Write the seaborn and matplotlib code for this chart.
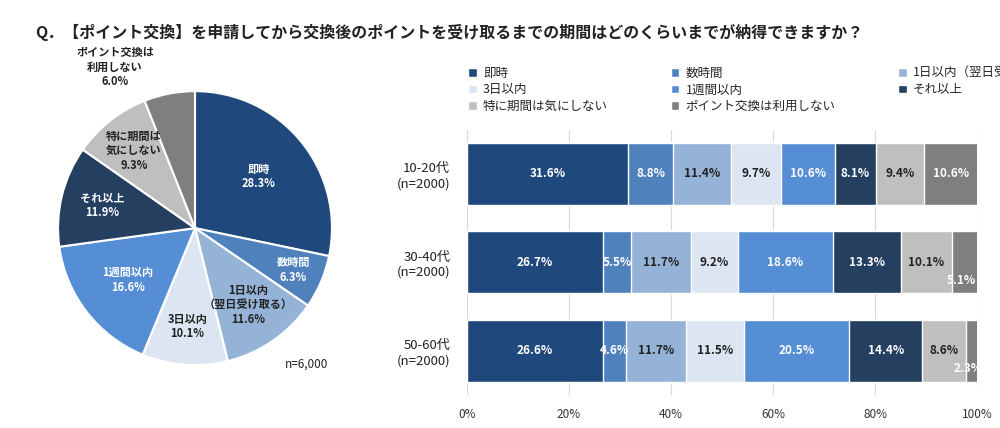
import numpy as np
import pandas as pd
import matplotlib.pyplot as plt
import seaborn as sns

categories = ["即時", "数時間", "1日以内（翌日受け取る）", "3日以内", "1週間以内", "それ以上",
              "特に期間は気にしない", "ポイント交換は利用しない"]
pie_labels = ["即時", "数時間", "1日以内\n（翌日受け取る）", "3日以内", "1週間以内", "それ以上",
              "特に期間は\n気にしない", "ポイント交換は\n利用しない"]
pie_values = [28.3, 6.3, 11.6, 10.1, 16.6, 11.9, 9.3, 6.0]
groups = ["10-20代\n(n=2000)", "30-40代\n(n=2000)", "50-60代\n(n=2000)"]
bar_values = [
    [31.6, 8.8, 11.4, 9.7, 10.6, 8.1, 9.4, 10.6],
    [26.7, 5.5, 11.7, 9.2, 18.6, 13.3, 10.1, 5.1],
    [26.6, 4.6, 11.7, 11.5, 20.5, 14.4, 8.6, 2.3],
]
colors = ["#1F497D", "#4F81BD", "#95B3D7", "#DCE6F2", "#558ED5", "#243F60", "#BFBFBF", "#7F7F7F"]
text_colors = ["white", "white", "#222222", "#222222", "white", "white", "#222222", "white"]

sns.set_theme(style="white")
plt.rcParams['font.family'] = ['Noto Sans CJK JP', 'DejaVu Sans']

fig = plt.figure(figsize=(10, 4.28), dpi=100)
fig.text(0.035, 0.925, "Q．【ポイント交換】を申請してから交換後のポイントを受け取るまでの期間はどのくらいまでが納得できますか？",
         fontsize=11.5, fontweight="bold", color="#222222", va="center")

# --- pie ---
ax_p = fig.add_axes([0.058, 0.147, 0.274, 0.64])
wedges, _ = ax_p.pie(pie_values, colors=colors, startangle=90, counterclock=False,
                     wedgeprops=dict(edgecolor="white", linewidth=1.5))
ax_p.set_xlim(-1.0, 1.0)
ax_p.set_ylim(-1.0, 1.0)
ax_p.set_aspect("equal")
radii = [0.6, 0.78, 0.68, 0.72, 0.62, 0.7, 0.72, 1.25]
for i, w in enumerate(wedges):
    ang = np.deg2rad((w.theta1 + w.theta2) / 2)
    r = radii[i]
    tc = "#222222" if i == 7 else text_colors[i]
    x, y = r * np.cos(ang), r * np.sin(ang)
    if i == 7:
        x -= 0.35
        y -= 0.05
    ax_p.text(x, y, f"{pie_labels[i]}\n{pie_values[i]:.1f}%", ha="center", va="center",
              fontsize=8, fontweight="bold", color=tc, linespacing=1.15)
fig.text(0.285, 0.14, "n=6,000", fontsize=8.5, color="#222222")

# --- stacked bars ---
ax_b = fig.add_axes([0.467, 0.077, 0.51, 0.62])
rows = []
for g, vals in zip(groups, bar_values):
    cum = np.cumsum(vals)
    for c, v, cv in zip(categories, vals, cum):
        rows.append(dict(group=g, cat=c, value=v, cum=cv))
df = pd.DataFrame(rows)
for i in reversed(range(len(categories))):
    d = df[df["cat"] == categories[i]]
    sns.barplot(data=d, x="cum", y="group", color=colors[i], width=0.7, ax=ax_b,
                edgecolor="white", linewidth=1, saturation=1, label=categories[i])
for gi, vals in enumerate(bar_values):
    left = 0
    for i, v in enumerate(vals):
        x, y = left + v / 2, gi
        tc = text_colors[i]
        if v < 6 and i == 7:
            x, y, tc = left + v / 2 - 0.8, gi + 0.2, "white"
        ax_b.text(x, y, f"{v:.1f}%", ha="center", va="center", fontsize=8.5,
                  fontweight="bold", color=tc)
        left += v
ax_b.set_xlim(0, 100)
ax_b.set_xticks(range(0, 101, 20))
ax_b.set_xticklabels([f"{t}%" for t in range(0, 101, 20)], fontsize=8.5, color="#333333")
ax_b.set_yticks(range(3))
ax_b.set_yticklabels(groups, fontsize=9.5, color="#222222")
ax_b.set_xlabel("")
ax_b.set_ylabel("")
ax_b.tick_params(axis="y", length=0, pad=12)
ax_b.grid(axis="x", color="#D9D9D9", linewidth=0.8)
ax_b.set_axisbelow(True)
for s in ax_b.spines.values():
    s.set_visible(False)
handles, labels = ax_b.get_legend_handles_labels()
hmap = dict(zip(labels, handles))
# column-major fill so that the legend reads row by row
leg_order = [0, 3, 6, 1, 4, 7, 2, 5]
ax_b.legend([hmap[categories[k]] for k in leg_order], [categories[k] for k in leg_order], ncol=3,
            loc="lower left", bbox_to_anchor=(-0.02, 1.02), frameon=False, fontsize=9,
            handlelength=0.7, handleheight=0.7, columnspacing=5.0, labelspacing=0.3,
            handletextpad=0.5)

fig.savefig("out.png", dpi=100)
